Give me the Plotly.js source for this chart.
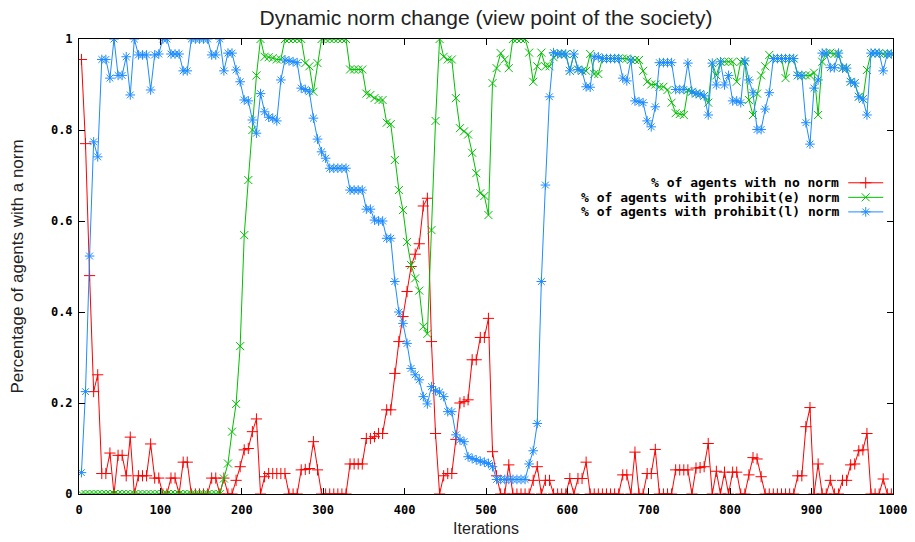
<!DOCTYPE html>
<html>
<head>
<meta charset="utf-8">
<script src="https://cdn.plot.ly/plotly-3.0.1.min.js"></script>
<style>html,body{margin:0;padding:0;background:#fff;}#chart{width:915px;height:542px;}</style>
</head>
<body>
<div id="chart"></div>
<script>
const iterations = [
3,8,13,18,23,28,33,38,43,48,
53,58,63,68,73,78,83,88,93,98,
103,108,113,118,123,128,133,138,143,148,
153,158,163,168,173,178,183,188,193,198,
203,208,213,218,223,228,233,238,243,248,
253,258,263,268,273,278,283,288,293,298,
303,308,313,318,323,328,333,338,343,348,
353,358,363,368,373,378,383,388,393,398,
403,408,413,418,423,428,433,438,443,448,
453,458,463,468,473,478,483,488,493,498,
503,508,513,518,523,528,533,538,543,548,
553,558,563,568,573,578,583,588,593,598,
603,608,613,618,623,628,633,638,643,648,
653,658,663,668,673,678,683,688,693,698,
703,708,713,718,723,728,733,738,743,748,
753,758,763,768,773,778,783,788,793,798,
803,808,813,818,823,828,833,838,843,848,
853,858,863,868,873,878,883,888,893,898,
903,908,913,918,923,928,933,938,943,948,
953,958,963,968,973,978,983,988,993,998];

const noNorm = [
0.955,0.77,0.48,0.225,0.262,0.045,0.045,0.09,0,0.085,
0.085,0.04,0.125,0,0.04,0.04,0.04,0.11,0.035,0.035,
0,0,0.035,0.035,0,0.07,0.07,0,0,0,
0,0,0.035,0.035,0,0.035,0,0,0.03,0.06,
0.097,0.1,0.137,0.165,0,0.038,0.045,0.045,0.045,0.045,
0.045,0,0,0,0.053,0.054,0.056,0.115,0.053,0,
0,0,0,0,0,0,0.066,0.066,0.066,0.066,
0.122,0.122,0.126,0.133,0.133,0.185,0.185,0.265,0.335,0.39,
0.445,0.5,0.527,0.55,0.633,0.65,0.335,0.133,0,0.04,
0.045,0.045,0.12,0.2,0.203,0.207,0.295,0.295,0.344,0.344,
0.386,0.093,0.04,0,0,0.064,0,0,0,0,
0,0.03,0.06,0,0.03,0.03,0,0,0,0,
0.034,0,0.034,0.034,0.07,0,0,0,0,0,
0,0,0,0.042,0.042,0,0.092,0,0,0.045,
0.045,0.098,0,0,0,0,0.053,0.053,0.053,0.053,
0,0.057,0.058,0.06,0.111,0,0.05,0,0.048,0,
0.048,0.048,0,0,0.042,0.08,0.077,0.038,0,0,
0,0,0,0,0,0,0.04,0.04,0.148,0.19,
0,0.066,0,0,0.03,0,0,0.03,0.03,0.064,
0.066,0.095,0.097,0.133,0,0,0,0.033,0,0];

const prohibitE = [
0,0,0,0,0,0,0,0,0,0,
0,0,0,0,0,0,0,0,0,0,
0,0,0,0,0,0,0,0,0,0,
0,0,0,0,0,0.034,0.067,0.137,0.198,0.325,
0.569,0.69,0.8,0.92,1,0.961,0.96,0.958,0.955,0.955,
1,1,1,1,1,0.947,0.94,0.884,0.947,1,
1,1,1,1,1,1,0.933,0.933,0.933,0.933,
0.88,0.877,0.87,0.866,0.866,0.816,0.813,0.734,0.668,0.624,
0.554,0.503,0.474,0.447,0.368,0.352,0.58,0.82,1,0.961,
0.955,0.955,0.87,0.804,0.797,0.79,0.75,0.705,0.661,0.655,
0.613,0.903,0.936,0.969,0.955,0.936,1,1,1,1,
0.97,0.906,0.94,0.97,0.94,0.94,0.96,0.967,0.967,0.967,
0.93,0.967,0.933,0.93,0.93,0.967,0.923,0.923,0.957,0.957,
0.957,0.957,0.957,0.957,0.957,0.954,0.954,0.954,0.93,0.906,
0.9,0.9,0.895,0.895,0.888,0.86,0.837,0.835,0.833,0.888,
0.884,0.88,0.879,0.875,0.86,0.947,0.92,0.95,0.95,0.95,
0.95,0.906,0.95,0.95,0.866,0.833,0.88,0.92,0.94,0.965,
0.957,0.957,0.957,0.914,0.957,0.957,0.92,0.92,0.92,0.92,
0.926,0.833,0.95,0.969,0.97,0.967,0.967,0.936,0.936,0.906,
0.903,0.873,0.868,0.932,0.969,0.969,0.969,0.967,0.967,0.967];

const prohibitL = [
0.047,0.225,0.523,0.774,0.741,0.955,0.955,0.914,1,0.92,
0.92,0.961,0.877,1,0.965,0.965,0.965,0.888,0.965,0.967,
1,1,0.967,0.967,0.967,0.93,0.93,1,1,1,
1,1,0.965,0.965,1,0.93,0.969,0.969,0.932,0.906,
0.866,0.864,0.822,0.793,0.88,0.84,0.828,0.826,0.82,0.91,
0.954,0.952,0.95,0.948,0.892,0.889,0.884,0.826,0.78,0.752,
0.738,0.716,0.716,0.716,0.716,0.716,0.668,0.668,0.668,0.668,
0.626,0.626,0.602,0.6,0.6,0.562,0.562,0.467,0.4,0.375,
0.331,0.276,0.262,0.251,0.214,0.198,0.236,0.227,0.224,0.214,
0.181,0.181,0.13,0.119,0.115,0.082,0.078,0.075,0.072,0.07,
0.067,0.06,0.032,0.032,0.032,0.032,0.032,0.032,0.032,0.032,
0.066,0.095,0.155,0.467,0.679,0.873,0.97,0.967,0.967,0.967,
0.93,0.967,0.933,0.93,0.895,0.894,0.961,0.961,0.957,0.957,
0.957,0.957,0.957,0.914,0.908,0.954,0.864,0.862,0.86,0.82,
0.807,0.851,0.948,0.948,0.948,0.948,0.889,0.889,0.889,0.947,
0.884,0.88,0.879,0.875,0.833,0.947,0.899,0.95,0.899,0.92,
0.864,0.864,0.86,0.952,0.91,0.882,0.801,0.801,0.846,0.882,
0.957,0.957,0.957,0.957,0.957,0.957,0.92,0.92,0.816,0.769,
0.892,0.91,0.969,0.969,0.937,0.937,0.969,0.936,0.936,0.906,
0.903,0.873,0.868,0.833,0.969,0.969,0.969,0.93,0.967,0.967];

const seriesNames = ["% of agents with no norm", "% of agents with prohibit(e) norm", "% of agents with prohibit(l) norm"];
const seriesColors = ["#ff0000", "#00c000", "#1e8cff"];
const seriesSymbols = ["cross-thin-open", "x-thin-open", "asterisk-open"];
const seriesValues = [noNorm, prohibitE, prohibitL];
const xTicks = [0,100,200,300,400,500,600,700,800,900,1000];
const yTicks = [0,0.2,0.4,0.6,0.8,1];
const yTickText = ["0","0.2","0.4","0.6","0.8","1"];

const traces = seriesValues.map((vals, k) => ({
  type: "scatter", mode: "lines+markers", x: iterations, y: vals, name: seriesNames[k],
  line: {color: seriesColors[k], width: 1},
  marker: {symbol: seriesSymbols[k], size: 8, color: seriesColors[k], line: {color: seriesColors[k], width: 1}},
  showlegend: false, hoverinfo: "skip"
}));

// custom gnuplot-style key (text left of sample)
const keyRowsY = [0.684, 0.652, 0.62];
seriesNames.forEach((nm, k) => {
  traces.push({
    type: "scatter", mode: "lines", xaxis: "x2", yaxis: "y2",
    x: [0.945, 0.988], y: [keyRowsY[k], keyRowsY[k]],
    line: {color: seriesColors[k], width: 1}, showlegend: false, hoverinfo: "skip"
  });
  traces.push({
    type: "scatter", mode: "markers", xaxis: "x2", yaxis: "y2",
    x: [0.9665], y: [keyRowsY[k]],
    marker: {symbol: seriesSymbols[k], size: 8, color: seriesColors[k], line: {color: seriesColors[k], width: 1}},
    showlegend: false, hoverinfo: "skip"
  });
});

const annotations = seriesNames.map((nm, k) => ({
  xref: "x2", yref: "y2", x: 0.936, y: keyRowsY[k], text: nm, showarrow: false,
  xanchor: "right", yanchor: "middle",
  font: {family: "DejaVu Sans Mono", size: 13, color: "#000", weight: "bold"}
}));

const tickFont = {family: "DejaVu Sans Mono", size: 12, color: "#000", weight: "bold"};
const layout = {
  width: 915, height: 542,
  margin: {l: 79, r: 22, t: 39, b: 48, pad: 0},
  paper_bgcolor: "#fff", plot_bgcolor: "#fff",
  title: {text: "Dynamic norm change (view point of the society)", x: 0.5, xref: "paper", y: 0.968, yref: "container", yanchor: "middle",
          font: {family: "Liberation Sans", size: 21, color: "#222"}},
  xaxis: {range: [0, 1000], tickvals: xTicks, ticktext: xTicks.map(String), ticks: "inside", ticklen: 6, tickcolor: "#000",
          showline: true, linecolor: "#000", linewidth: 1, mirror: "ticks", showgrid: false, zeroline: false,
          tickfont: tickFont, automargin: false, ticklabelstandoff: 5,
          title: {text: "Iterations", font: {family: "Liberation Sans", size: 16, color: "#222"}, standoff: 6}},
  yaxis: {range: [0, 1], tickvals: yTicks, ticktext: yTickText, ticks: "inside", ticklen: 6, tickcolor: "#000",
          showline: true, linecolor: "#000", linewidth: 1, mirror: "ticks", showgrid: false, zeroline: false,
          tickfont: tickFont, automargin: false, ticklabelstandoff: 3,
          title: {text: "Percentage of agents with a norm", font: {family: "Liberation Sans", size: 17, color: "#222"}, standoff: 22}},
  xaxis2: {range: [0, 1], overlaying: "x", visible: false, fixedrange: true},
  yaxis2: {range: [0, 1], overlaying: "y", visible: false, fixedrange: true},
  annotations: annotations,
  showlegend: false
};

Plotly.newPlot("chart", traces, layout, {displayModeBar: false, staticPlot: true});
</script>
</body>
</html>
